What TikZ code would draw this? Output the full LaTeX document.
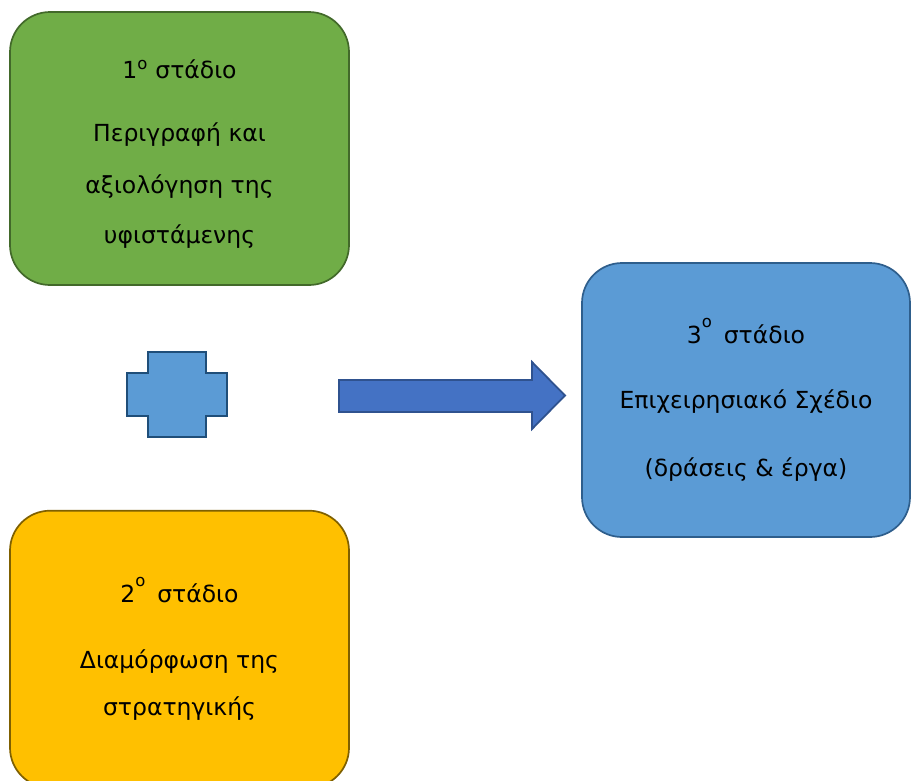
\documentclass[tikz,border=0pt]{standalone}
\usepackage{fontspec}
\setmainfont{DejaVu Sans}
\usepackage{tikz}
\usetikzlibrary{positioning}
\definecolor{stgreen}{HTML}{70AD47}
\definecolor{stgreenline}{HTML}{42692A}
\definecolor{styellow}{HTML}{FFC000}
\definecolor{styellowline}{HTML}{7F6000}
\definecolor{stblue}{HTML}{5B9BD5}
\definecolor{stblueline}{HTML}{2E5E8C}
\definecolor{plusline}{HTML}{1F4E79}
\definecolor{arrowfill}{HTML}{4472C4}
\definecolor{arrowline}{HTML}{2F528F}
\newcommand{\stnum}[1]{#1\textsuperscript{o}}
\newcommand{\stnumup}[1]{#1\raisebox{0.55ex}{\textsuperscript{o}}\,}

\begin{document}
\begin{tikzpicture}[x=1pt,y=-1pt,
                    stage/.style={rectangle,draw,line width=1.7pt,rounded corners=40pt,
                        minimum width=339pt,minimum height=273pt,align=center,
                        font=\fontsize{23.5}{26}\selectfont}]
                    \useasboundingbox (0,0) rectangle (911,780);
                    \node[stage,fill=stgreen,draw=stgreenline] (s1) at (179.5,148.5) {
                        \rule{0pt}{30pt}\stnum{1} στάδιο\\[37pt]
                        Περιγραφή και\\[26pt]
                        αξιολόγηση της\\[24pt]
                        υφιστάμενης
                    };
                    \node[stage,fill=styellow,draw=styellowline,minimum height=277pt,below=224pt of s1] (s2) {
                        \stnumup{2} στάδιο\\[40pt]
                        Διαμόρφωση της\\[21pt]
                        στρατηγικής
                    };
                    \node[stage,fill=stblue,draw=stblueline,minimum width=328pt,minimum height=274pt] (s3) at (746,400) {
                        \stnumup{3} στάδιο\\[39pt]
                        Επιχειρησιακό Σχέδιο\\[42pt]
                        (δράσεις \& έργα)
                    };
                    % plus sign
                    \draw[fill=stblue,draw=plusline,line width=2.4pt,line join=miter]
                        (127,373) -- (148,373) -- (148,352) -- (206,352) -- (206,373) -- (227,373)
                        -- (227,416) -- (206,416) -- (206,437) -- (148,437) -- (148,416) -- (127,416) -- cycle;
                    % block arrow
                    \draw[fill=arrowfill,draw=arrowline,line width=1.8pt]
                        (339,380) -- (532,380) -- (532,362) -- (565,395.5) -- (532,429) -- (532,412) -- (339,412) -- cycle;
                \end{tikzpicture}
\end{document}
